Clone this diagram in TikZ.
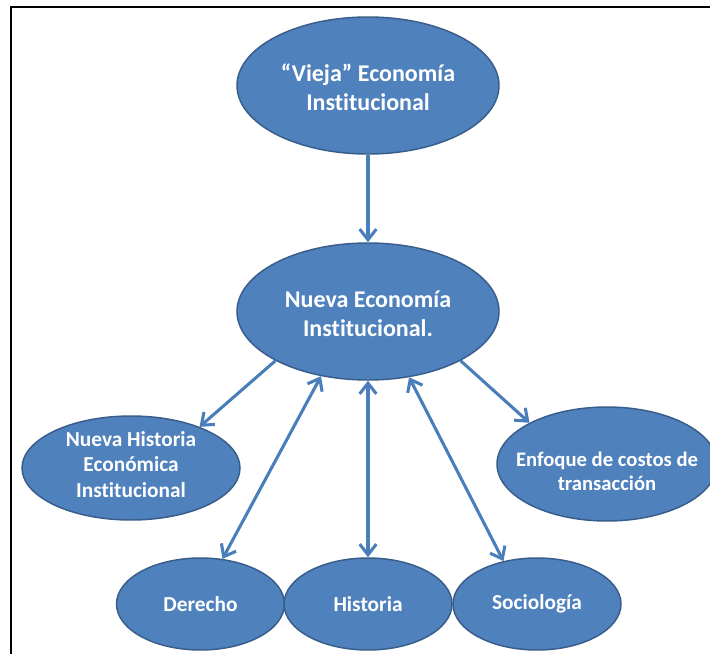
\documentclass[tikz,border=0pt]{standalone}
\usepackage{fontspec}
\setmainfont{Carlito}[Ligatures=NoCommon]
\usetikzlibrary{shapes.geometric,arrows.meta}
\definecolor{ellfill}{HTML}{4F81BD}
\definecolor{elldraw}{HTML}{385D8A}
\definecolor{arrcol}{HTML}{4A7EBB}
\begin{document}
\begin{tikzpicture}[x=0.75pt,y=-0.75pt,
  bub/.style={ellipse, fill=ellfill, draw=elldraw, line width=1.1pt, inner sep=0pt, text=white, align=center},
  txt/.style={inner sep=0pt, text=white, align=center},
  big/.style={minimum width=196.5pt, minimum height=102.75pt},
  bigfont/.style={font=\bfseries\fontsize{18}{21.75}\selectfont},
  small/.style={minimum width=126pt, minimum height=69pt, font=\bfseries\fontsize{16}{19}\selectfont},
  tipv/.tip={Straight Barb[length=8pt,width=12.5pt]},
  conn/.style={draw=arrcol, line width=2.3pt, -tipv},
  conntwo/.style={draw=arrcol, line width=2.3pt, tipv-tipv}
]
\useasboundingbox (0,0) rectangle (710,653);
\fill[white] (0,0) rectangle (710,653);
\draw[line width=1.6pt] (11,660) -- (11,7) -- (720,7);

\node[bub, big] (vieja) at (368,85.5) {};
\node[txt, bigfont] (viejat) at (368,87) {“Vieja” Economía\\Institucional};
\node[bub, big] (nueva) at (368,311.5) {};
\node[txt, bigfont] (nuevat) at (368,313.5) {Nueva Economía\\Institucional.};
\node[bub, minimum width=163.5pt, minimum height=78pt] (nhe) at (131,468) {};
\node[txt, font=\bfseries\fontsize{16}{19}\selectfont] (nhet) at (131,464.5) {Nueva Historia\\Económica\\Institucional};
\node[bub, minimum width=165pt, minimum height=85.5pt] (enf) at (607,464) {};
\node[txt, font=\bfseries\fontsize{15.5}{18}\selectfont] (enft) at (607,471) {Enfoque de costos de\\transacción};
\node[bub, small] (der) at (200.5,604) {Derecho};
\node[bub, small] (his) at (368,604) {Historia};
\node[bub, small] (soc) at (537,604) {Sociología};

\draw[conn] (vieja.south) -- (nueva.north);
\draw[conn] (nueva.208) -- (nhe.31);
\draw[conn] (nueva.332) -- (enf.152.6);
\draw[conntwo] (nueva.234) -- (der.64.4);
\draw[conntwo] (nueva.south) -- (his.north);
\draw[conntwo] (nueva.302.7) -- (soc.128.2);
\end{tikzpicture}
\end{document}
